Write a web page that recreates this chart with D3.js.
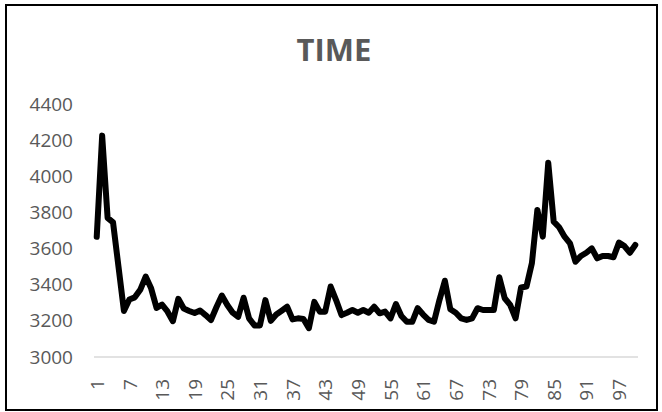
<!DOCTYPE html>
<html>
<head>
<meta charset="utf-8">
<script src="https://cdn.jsdelivr.net/npm/d3@7"></script>
<style>
  html, body { margin: 0; padding: 0; background: #fff; }
  svg { display: block; }
</style>
</head>
<body>
<svg id="chart" width="662" height="412"></svg>
<script>
// Chart data
const title = "TIME";
const categories = [
  1,2,3,4,5,6,7,8,9,10,11,12,13,14,15,16,17,18,19,20,
  21,22,23,24,25,26,27,28,29,30,31,32,33,34,35,36,37,38,39,40,
  41,42,43,44,45,46,47,48,49,50,51,52,53,54,55,56,57,58,59,60,
  61,62,63,64,65,66,67,68,69,70,71,72,73,74,75,76,77,78,79,80,
  81,82,83,84,85,86,87,88,89,90,91,92,93,94,95,96,97,98,99,100
];
const timeValues = [
  3665,4225,3770,3745,3500,3255,3318,3330,3372,3445,
  3380,3272,3290,3252,3198,3322,3268,3255,3243,3257,
  3232,3205,3275,3340,3288,3245,3222,3328,3214,3175,
  3175,3315,3200,3235,3256,3278,3208,3214,3210,3160,
  3305,3251,3251,3390,3315,3232,3245,3260,3245,3260,
  3245,3278,3242,3251,3214,3293,3227,3195,3195,3270,
  3235,3205,3195,3315,3422,3264,3245,3214,3205,3214,
  3270,3260,3260,3260,3441,3325,3288,3214,3385,3390,
  3520,3814,3666,4075,3749,3718,3666,3629,3527,3559,
  3577,3601,3546,3559,3559,3552,3633,3614,3577,3620
];
const yTicks = [3000, 3200, 3400, 3600, 3800, 4000, 4200, 4400];
const xTickLabels = [1, 7, 13, 19, 25, 31, 37, 43, 49, 55, 61, 67, 73, 79, 85, 91, 97];

const svg = d3.select("#chart");
const fontFamily = "'Open Sans', 'Noto Sans', sans-serif";
const textColor = "#595959";

// Outer chart border
svg.append("rect")
  .attr("x", 6).attr("y", 5)
  .attr("width", 651).attr("height", 405)
  .attr("fill", "#fff")
  .attr("stroke", "#000")
  .attr("stroke-width", 2);

// Scales
const x = d3.scalePoint()
  .domain(categories)
  .range([94, 638])
  .padding(0.5);

const y = d3.scaleLinear()
  .domain([3000, 4400])
  .range([357, 104]);

// Title
svg.append("text")
  .attr("x", 334)
  .attr("y", 61)
  .attr("text-anchor", "middle")
  .attr("font-family", fontFamily)
  .attr("font-weight", "bold")
  .attr("font-size", 31)
  .attr("fill", textColor)
  .text(title);

// Y axis (labels only)
const yAxis = d3.axisLeft(y)
  .tickValues(yTicks)
  .tickSize(0)
  .tickPadding(0)
  .tickFormat(d3.format("d"));

const yG = svg.append("g")
  .attr("transform", "translate(73,0)")
  .call(yAxis);
yG.select(".domain").remove();
yG.selectAll("text")
  .attr("font-family", fontFamily)
  .attr("font-size", 19)
  .attr("fill", textColor);

// X axis
const xAxis = d3.axisBottom(x)
  .tickValues(xTickLabels)
  .tickSize(0)
  .tickPadding(0);

const xG = svg.append("g")
  .attr("transform", "translate(0,357)")
  .call(xAxis);
xG.select(".domain")
  .attr("stroke", "#d9d9d9")
  .attr("stroke-width", 1.5)
  .attr("d", "M94,0H638");
xG.selectAll("text")
  .attr("font-family", fontFamily)
  .attr("font-size", 19)
  .attr("fill", textColor)
  .attr("text-anchor", "end")
  .attr("dy", "0.35em")
  .attr("transform", "translate(0,22) rotate(-90)")
  .attr("x", 0)
  .attr("y", 0);

// Data line
const line = d3.line()
  .x((d, i) => x(categories[i]))
  .y(d => y(d));

svg.append("path")
  .datum(timeValues)
  .attr("d", line)
  .attr("fill", "none")
  .attr("stroke", "#000")
  .attr("stroke-width", 6)
  .attr("stroke-linejoin", "round")
  .attr("stroke-linecap", "round");
</script>
</body>
</html>
